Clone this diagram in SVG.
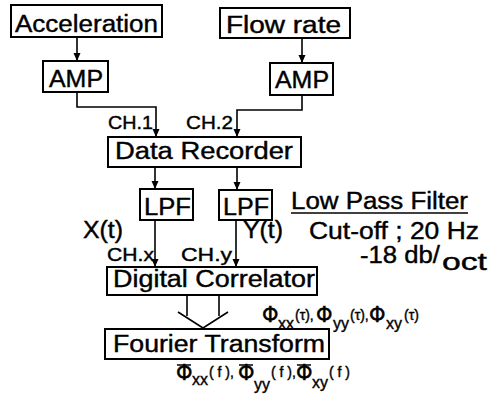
<svg xmlns="http://www.w3.org/2000/svg" width="499" height="397" viewBox="0 0 499 397">
  <style>
    .box { fill: #fff; stroke: #000; stroke-width: 2; }
    text { stroke: #000; stroke-width: 0.4; fill: #000; }
    .lbl { font-family: "Liberation Sans", "DejaVu Sans", sans-serif; font-size: 23px; }
    .ch { font-family: "Liberation Sans", "DejaVu Sans", sans-serif; font-size: 19px; }
    .wire { fill: none; stroke: #000; stroke-width: 1.6; }
    .phi { font-family: "DejaVu Sans", "Liberation Sans", sans-serif; font-size: 21px; }
    .sub { font-family: "Liberation Sans", "DejaVu Sans", sans-serif; font-size: 16px; }
    .arg { font-family: "Liberation Sans", "DejaVu Sans", sans-serif; font-size: 14px; }
  </style>
  <defs>
    <marker id="head" viewBox="0 0 8 10" refX="8" refY="5" markerWidth="8" markerHeight="10" markerUnits="userSpaceOnUse" orient="auto">
      <path d="M0,1.5 L8,5 L0,8.5 Z" fill="#000"/>
    </marker>
  </defs>

  <!-- connectors -->
  <g id="connectors">
    <path class="wire" d="M77,37 V61" marker-end="url(#head)"/>
    <path class="wire" d="M302,38 V63" marker-end="url(#head)"/>
    <path class="wire" d="M77,92 V107 H156 V137" marker-end="url(#head)"/>
    <path class="wire" d="M302,95 V110 H237 V137" marker-end="url(#head)"/>
    <path class="wire" d="M155,167 V189" marker-end="url(#head)"/>
    <path class="wire" d="M237,167 V190" marker-end="url(#head)"/>
    <path class="wire" d="M155,220 V267" marker-end="url(#head)"/>
    <path class="wire" d="M236,220 V267" marker-end="url(#head)"/>
    <!-- hollow arrow from correlator to transform -->
    <path class="wire" d="M187,295 V316 M219,295 V316 M178,312 L203,328 L228,312"/>
  </g>

  <g id="acceleration">
    <rect class="box" x="11" y="5" width="151" height="32"/>
    <text class="lbl" x="15" y="32" textLength="143" lengthAdjust="spacingAndGlyphs">Acceleration</text>
  </g>
  <g id="flow-rate">
    <rect class="box" x="220" y="8" width="130" height="30"/>
    <text class="lbl" x="226" y="33" textLength="115" lengthAdjust="spacingAndGlyphs">Flow rate</text>
  </g>
  <g id="amp-1">
    <rect class="box" x="43" y="61" width="65" height="31"/>
    <text class="lbl" x="49" y="87" textLength="54" lengthAdjust="spacingAndGlyphs">AMP</text>
  </g>
  <g id="amp-2">
    <rect class="box" x="270" y="63" width="63" height="32"/>
    <text class="lbl" x="275" y="88" textLength="54" lengthAdjust="spacingAndGlyphs">AMP</text>
  </g>
  <g id="data-recorder">
    <text class="ch" x="108" y="129" textLength="45" lengthAdjust="spacingAndGlyphs">CH.1</text>
    <text class="ch" x="186" y="129" textLength="47" lengthAdjust="spacingAndGlyphs">CH.2</text>
    <rect class="box" x="108" y="137" width="193" height="30"/>
    <text class="lbl" x="115" y="159" textLength="178" lengthAdjust="spacingAndGlyphs">Data Recorder</text>
  </g>
  <g id="lpf-x">
    <rect class="box" x="140" y="189" width="53" height="31"/>
    <text class="lbl" x="144" y="215" textLength="47" lengthAdjust="spacingAndGlyphs">LPF</text>
  </g>
  <g id="lpf-y">
    <rect class="box" x="219" y="190" width="53" height="30"/>
    <text class="lbl" x="223" y="215" textLength="46" lengthAdjust="spacingAndGlyphs">LPF</text>
  </g>
  <g id="filter-note">
    <text class="lbl" x="291" y="209" textLength="177" lengthAdjust="spacingAndGlyphs">Low Pass Filter</text>
    <line x1="291" y1="213" x2="468" y2="213" stroke="#000" stroke-width="1.6"/>
    <text class="lbl" x="309" y="239" font-size="21" textLength="170" lengthAdjust="spacingAndGlyphs">Cut-off ; 20 Hz</text>
    <text class="lbl" x="360" y="263" font-size="21" textLength="80" lengthAdjust="spacingAndGlyphs">-18 db/</text>
    <text class="lbl" x="442" y="270" font-size="19" textLength="45" lengthAdjust="spacingAndGlyphs">oct</text>
  </g>
  <g id="digital-correlator">
    <text class="lbl" x="83" y="238" textLength="40" lengthAdjust="spacingAndGlyphs">X(t)</text>
    <text class="lbl" x="243" y="238" textLength="40" lengthAdjust="spacingAndGlyphs">Y(t)</text>
    <text class="ch" x="107" y="261" textLength="47" lengthAdjust="spacingAndGlyphs">CH.x</text>
    <text class="ch" x="181" y="261" textLength="51" lengthAdjust="spacingAndGlyphs">CH.y</text>
    <rect class="box" x="107" y="267" width="210" height="28"/>
    <text class="lbl" x="113" y="287" textLength="202" lengthAdjust="spacingAndGlyphs">Digital Correlator</text>
  </g>
  <g id="correlation-functions">
    <text class="phi" x="262" y="322">Φ</text>
    <text class="sub" x="278" y="329">xx</text>
    <text class="arg" x="295" y="320">(τ),</text>
    <text class="phi" x="316" y="322">Φ</text>
    <text class="sub" x="333" y="329">yy</text>
    <text class="arg" x="350" y="320">(τ),</text>
    <text class="phi" x="369" y="322">Φ</text>
    <text class="sub" x="386" y="329">xy</text>
    <text class="arg" x="404" y="320">(τ)</text>
  </g>
  <g id="fourier-transform">
    <rect class="box" x="105" y="329" width="224" height="30"/>
    <text class="lbl" x="113" y="352" textLength="212" lengthAdjust="spacingAndGlyphs">Fourier Transform</text>
  </g>
  <g id="spectra">
    <text class="phi" x="176" y="380">Φ</text>
    <line x1="177" y1="365" x2="191" y2="365" stroke="#000" stroke-width="1.5"/>
    <text class="sub" x="192" y="385">xx</text>
    <text class="arg" x="209" y="377">( f ),</text>
    <text class="phi" x="238" y="380">Φ</text>
    <line x1="239" y1="365" x2="253" y2="365" stroke="#000" stroke-width="1.5"/>
    <text class="sub" x="254" y="390">yy</text>
    <text class="arg" x="271" y="377">( f ),</text>
    <text class="phi" x="296" y="380">Φ</text>
    <line x1="297" y1="365" x2="311" y2="365" stroke="#000" stroke-width="1.5"/>
    <text class="sub" x="312" y="388">xy</text>
    <text class="arg" x="329" y="377">( f )</text>
  </g>
</svg>
